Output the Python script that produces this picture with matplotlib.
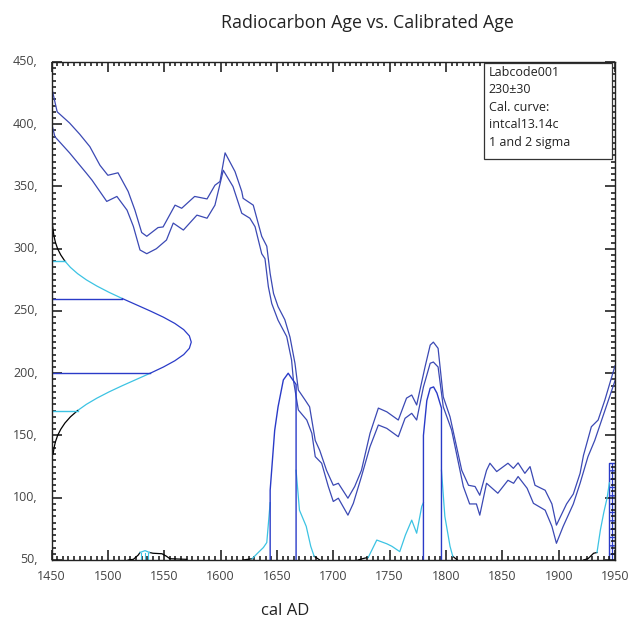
import numpy as np
import matplotlib
matplotlib.use("Agg")
import matplotlib.pyplot as plt
from matplotlib.ticker import MultipleLocator, FuncFormatter
from matplotlib.patches import Rectangle
import matplotlib.transforms as mtransforms

plt.rcParams['font.family'] = ['Open Sans', 'DejaVu Sans']
plt.rcParams['hatch.linewidth'] = 0.9

# calibration curve envelope (cal AD, 14C age BP)
upper_year = [1450, 1455, 1466, 1475, 1484, 1493, 1500, 1509, 1518, 1524, 1530, 1534.5,
              1544.5, 1549, 1559.6, 1565.5, 1577, 1588, 1595, 1599.5, 1604, 1612.8,
              1618.8, 1620, 1629, 1636.5, 1641, 1644, 1647, 1651, 1657, 1661.6, 1666,
              1669, 1675, 1679, 1684, 1688, 1694, 1700, 1704.5, 1713, 1719, 1725,
              1732.6, 1740, 1747.5, 1757.7, 1765, 1769.6, 1774, 1781.4, 1786, 1788.8,
              1793, 1797.6, 1803.6, 1814, 1820, 1825.8, 1830, 1836, 1839, 1845, 1855,
              1859.8, 1864, 1870, 1874.6, 1879, 1888, 1894, 1898, 1907, 1913, 1919,
              1922, 1929, 1935, 1941, 1950]
upper_age = [430, 410, 401, 392, 382, 367, 359, 361, 346, 331, 313, 310,
             317, 317.5, 335, 332.5, 342, 340, 351, 354, 377, 362,
             346, 340.5, 335, 310, 302, 280, 264, 253.5, 243, 229, 208,
             186.5, 178.5, 173, 146, 138, 122, 110, 111.6, 99.6, 109, 122,
             151.7, 172, 169, 162.4, 180, 182.5, 174.5, 205, 222.6, 225,
             220, 181, 165, 122, 110, 109, 102, 122, 127.7, 121, 127.7,
             123.6, 128, 119.6, 125, 110, 106, 95, 78, 95, 103, 119.6,
             134, 157, 162.4, 178.5, 206]

lower_year = [1450, 1453, 1466, 1481, 1486, 1499, 1508, 1517, 1522.6, 1528.5, 1534.5,
              1543, 1552, 1558, 1567, 1579, 1588, 1595, 1602.4, 1611, 1618.8, 1626,
              1630.6, 1636.5, 1639.4, 1642.4, 1645.4, 1651, 1658.7, 1663, 1664.6, 1669,
              1676.5, 1681, 1684, 1689.7, 1695.6, 1700, 1704.5, 1713, 1717.8, 1725,
              1732.6, 1740, 1747.5, 1757.7, 1763.7, 1769.6, 1774, 1780, 1786, 1788.8,
              1793, 1797.6, 1805, 1815.4, 1821, 1827, 1830, 1836, 1846, 1855, 1860,
              1864, 1872, 1877.6, 1888, 1894, 1898, 1904, 1913, 1919, 1926, 1932,
              1938, 1950]
lower_age = [401, 390, 377, 360.6, 355, 338, 342, 331, 318, 299, 296,
             300, 307, 320.6, 315, 327, 324.5, 335, 363, 350, 328.5, 324.5,
             317.7, 296, 292, 269.5, 256, 242.6, 229.4, 210.6, 194.6, 170.5,
             162.4, 151.7, 133, 127.7, 109, 97, 99.6, 86, 95.5, 117,
             141, 158.4, 155.7, 149, 163.8, 167.8, 162.4, 189, 208, 209,
             205, 173, 154.4, 109, 95, 95, 86, 111.6, 103.6, 114, 111.6,
             117, 107.6, 95.5, 90, 77, 63.4, 77, 95, 111.6, 133, 146,
             162, 194]

# radiocarbon date 230+-30 drawn on the age axis (age, width in years from 1450)
gauss_age = [325, 320, 315, 310, 305, 300, 295, 290, 285, 280, 275, 270, 265, 260,
             255, 250, 245, 240, 235, 230, 225, 220, 215, 210, 205, 200, 195, 190,
             185, 180, 175, 170, 165, 160, 155, 150, 145, 140, 135]
gauss_width = [0.4, 0.8, 1.4, 2.2, 3.5, 5.4, 8.2, 11.9, 16.8, 23.1, 30.9, 40.3, 51, 62.8,
               75.2, 87.6, 99.3, 109.4, 117.3, 122.3, 124, 122.3, 117.3, 109.4, 99.3,
               87.6, 75.2, 62.8, 51, 40.3, 30.9, 23.1, 16.8, 11.9, 8.2, 5.4, 3.5, 2.2, 1.4]

# calibrated probability on the calendar axis, split by range
black_parts = [
    ([1518, 1522.6, 1527, 1528.5], [50, 50.5, 54, 56]),
    ([1537, 1540, 1548, 1552, 1555, 1570], [56, 55.4, 55, 53, 51, 50.5]),
    ([1620, 1628], [50, 51]),
    ([1683, 1688], [53, 50]),
    ([1722, 1728, 1731], [50, 51.5, 52]),
    ([1806, 1810], [53, 50]),
    ([1922, 1926, 1931, 1934], [50, 51, 55.4, 56]),
]
cyan_parts = [
    ([1528.5, 1533, 1537], [56, 57.5, 56]),
    ([1628, 1633, 1638, 1641, 1644], [51, 55.6, 60, 64, 96]),
    ([1667, 1670, 1676, 1680, 1683], [122, 90, 77, 61, 53]),
    ([1731, 1738.6, 1747.5, 1752, 1759, 1764, 1769.6, 1774, 1778.5, 1780],
     [52, 66, 63, 61, 56.7, 70, 82, 71.5, 93, 96]),
    ([1796, 1799, 1803.6, 1806], [122, 85, 61, 53]),
    ([1934, 1937, 1940, 1943, 1945], [56, 74, 88, 100, 112]),
]
cyan_marks = [1529, 1533, 1536]
blue_parts = [
    ([1644, 1644, 1648, 1651, 1655.7, 1660, 1663, 1667, 1667],
     [50, 106, 154, 173, 194.6, 200, 196, 191, 50]),
    ([1780, 1780, 1783, 1786, 1789, 1792, 1796, 1796],
     [50, 150, 178, 188, 189, 184, 172, 50]),
]
hatch_year = [1945, 1950]
hatch_age = [128, 128]

legend_lines = ["Labcode001", "230\u00b130", "Cal. curve:", "intcal13.14c", "1 and 2 sigma"]

env_col = '#3b49b4'
blue_col = '#2a3bc8'
cyan_col = '#3cc3e3'

fig = plt.figure(figsize=(6.33, 6.18), dpi=100)
ax = fig.add_axes([0.0814, 0.0939, 0.8902, 0.8058])

ax.plot(upper_year, upper_age, color=env_col, lw=0.9)
ax.plot(lower_year, lower_age, color=env_col, lw=0.9)

# age-axis gaussian
g_age = np.array(gauss_age)
g_x = 1450 + np.array(gauss_width)
for lo, hi, col in [(290, 400, 'black'), (260, 290, cyan_col), (200, 260, blue_col),
                    (170, 200, cyan_col), (0, 170, 'black')]:
    m = (g_age >= lo) & (g_age <= hi)
    ax.plot(g_x[m], g_age[m], color=col, lw=0.9)
for a, col in [(290, cyan_col), (260, blue_col), (200, blue_col), (170, cyan_col)]:
    w = np.interp(a, g_age[::-1], g_x[::-1])
    ax.plot([1450, w], [a, a], color=col, lw=1.0)

for xs, ys in black_parts:
    ax.plot(xs, ys, color='black', lw=0.9)
for xs, ys in cyan_parts:
    ax.plot(xs, ys, color=cyan_col, lw=0.9)
for x in cyan_marks:
    ax.plot([x, x], [50, 56], color=cyan_col, lw=0.8)
for xs, ys in blue_parts:
    ax.plot(xs, ys, color=blue_col, lw=1.0)
ax.fill_between(hatch_year, 50, hatch_age, facecolor='none', edgecolor=blue_col,
                hatch='++', lw=1.0)

ax.set_xlim(1450, 1950)
ax.set_ylim(50, 450)
ax.xaxis.set_major_locator(MultipleLocator(50))
ax.xaxis.set_minor_locator(MultipleLocator(5))
ax.yaxis.set_major_locator(MultipleLocator(50))
ax.yaxis.set_minor_locator(MultipleLocator(5))
ax.yaxis.set_major_formatter(FuncFormatter(lambda v, p: f"{int(v)},"))
ax.tick_params(which='both', direction='in', top=True, right=True, colors='#111111',
               labelcolor='#444444', labelsize=9, width=1.1)
ax.tick_params(which='major', length=7)
ax.tick_params(which='minor', length=3)
ax.tick_params(axis='x', pad=7)
ax.tick_params(axis='y', pad=10)
for sp in ax.spines.values():
    sp.set_linewidth(1.0)
    sp.set_color('#222222')

offset = mtransforms.ScaledTranslation(0, 1.2 / 72, fig.dpi_scale_trans)
for lab in ax.get_yticklabels():
    lab.set_transform(lab.get_transform() + offset)

ax.add_patch(Rectangle((0.7675, 0.805), 0.227, 0.193, transform=ax.transAxes,
                       facecolor='white', edgecolor='#333333', lw=0.9, zorder=5))
ax.text(0.776, 0.992, "\n".join(legend_lines), transform=ax.transAxes, va='top',
        ha='left', fontsize=9, color='#222222', linespacing=1.45, zorder=6)

fig.text(0.580, 0.963, "Radiocarbon Age vs. Calibrated Age", ha='center', va='center',
         fontsize=12.8, color='#222222')
fig.text(0.450, 0.011, "cal AD", ha='center', va='center', fontsize=12, color='#222222')

fig.savefig("out.png", dpi=100)
